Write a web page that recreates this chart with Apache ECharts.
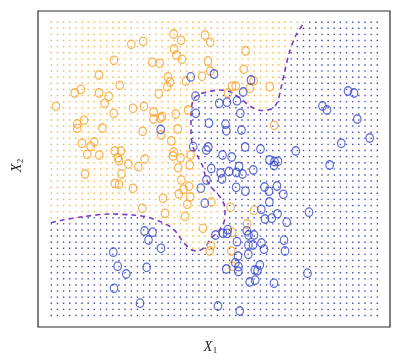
<!DOCTYPE html>
<html><head><meta charset="utf-8">
<script src="https://cdn.jsdelivr.net/npm/echarts@6/dist/echarts.min.js"></script>
<style>html,body{margin:0;padding:0;background:#fff}#c{width:418px;height:361px}</style>
</head><body><div id="c"></div>
<script>
const orangeX1 = [131.3,143.3,114,152,99,119.7,80.7,74.7,99,108.7,104.7,56,133,144,113.7,153.7,153.5,84,77.3,77.3,102.3,142.7,82,94.3,90.7,87.3,99.3,114.7,121,118,119,144.7,128.3,138.3,
173.7,181,205,210.3,174,176.3,182,245.7,159.7,208,243.7,210.3,202,186,168,170,167.3,232,235.7,253.7,249.7,269.7,228,158.7,188,175.7,160.5,162,177.7,161.3,171.3,274.3,173.7,173,180.5,190.7,189.7,178.3,
85,121.5,114.8,119,133,142.3,181.3,189,183.5,178.8,190.2,163,187.3,165,185.2,211.3,230.5,203,232.3,254.2,247.2,211,209.7,231.3,232.3];
const orangeX2 = [44.3,41.3,60.3,62.3,75,85.3,89.3,93,93,96.3,103.3,106.3,108.3,106.3,113.3,112,119,120.3,124,128.3,128,131.3,143.3,142,146.3,154.3,155,151,151,157.7,160.7,159,164,166.7,
34,40.3,35,42.3,49,55,59.3,51,63.3,61,69.3,71,76.3,81,77,82,86.7,86.3,86,80.7,88.3,86.7,93,93.8,110,114,118,116.5,129,135,141,125.3,152,156,158,155,165,167.8,
174,174,183.3,184.3,188.3,208.3,180,186.3,189.3,194,197,198.3,204.3,213.3,216.3,202,207.2,228.3,232.3,210.2,224,245.8,251,251,266.2];
const blueX1 = [190.7,214,251,243.2,195.5,219.2,227,237,195.8,240.3,209,225.5,226.3,241.5,160.7,193.2,208.3,206.3,245.2,260.5,222.5,231.7,269.5,274.5,278,274,211.3,220.7,229,239,236.5,242.5,253.3,222,206.5,
295.8,348,354,322.5,327,357.3,341.3,369.7,329.7,
200.8,236.2,245.5,264.5,269,277,283.3,204.8,269.3,261.3,277.5,265,271.7,286.7,309,246.7,248.5,254,215.5,223,227.3,227.7,237,248.5,253,261.5,264,161,238,248.3,235.3,238.5,238.3,226.3,259.8,254.8,257.5,249.7,255.2,274,218,239.7,284,285,307.5,
144.5,152.5,148.5,113.3,117.7,146.7,126.3,114,140];
const blueX2 = [76.9,74,80,92,96.2,103.3,102.2,100.8,113.3,113.3,123.2,124.2,130.8,130,129.5,146.7,147,150,147,149,155,157,160,161.5,161.3,165.5,168.5,173,171.5,166.5,172.5,174,170,179,180,
151,91,93,106,110,119,143.3,138,165,
188.2,187.3,191.2,187,191.3,186,194.3,203.2,202,209.3,213.8,219,218.2,222.2,212.2,230.8,235,235,235,233.3,233.3,229.7,241.7,245.2,245,243,249.2,248.3,256,254.3,262.8,266.7,271.5,269,265,270,270.8,282,280.2,283.2,306,311,240.2,251,273.2,
231,232.2,240,252.2,266.2,267.3,274,288.3,303.2];

// Decision boundary (dashed)
const boundaryX1 = [51,63,83,110,133,147,160,170,177,183,191,197,205,211,219.5,224.5,225,220,211,206,203,198,193,191,191,193,198,208,220,230,240,251,262,271,277,281,285,289.5,296,305];
const boundaryX2 = [222.7,220,216.7,214,215,217,221.5,226.5,233,241.7,249.5,251,247,238.5,230,220,208,197,187,178,167,157,147,133,118,100,95,91.7,90,91.7,98,106.7,110.5,109,103,88,70,52,35,21.7];

// Prediction grid
const gridX1 = {from: 51.3, to: 377.3, n: 54};
const gridX2 = {from: 22.2, to: 315.5, n: 49};

const xMin = 38, xMax = 390, yMin = 11, yMax = 327;

// orange region polygon: boundary closed through the top-left corner
const poly = boundaryX1.map((x, i) => [x, boundaryX2[i]]);
poly.push([306, 0], [0, 0], [0, boundaryX2[0]]);
function inside(px, py) {
  let c = false;
  for (let i = 0, j = poly.length - 1; i < poly.length; j = i++) {
    const [xi, yi] = poly[i], [xj, yj] = poly[j];
    if (((yi > py) !== (yj > py)) && (px < (xj - xi) * (py - yi) / (yj - yi) + xi)) c = !c;
  }
  return c;
}
const dotsO = [], dotsB = [];
for (let i = 0; i < gridX1.n; i++) {
  const gx = gridX1.from + (gridX1.to - gridX1.from) * i / (gridX1.n - 1);
  for (let j = 0; j < gridX2.n; j++) {
    const gy = gridX2.from + (gridX2.to - gridX2.from) * j / (gridX2.n - 1);
    (inside(gx, gy) ? dotsO : dotsB).push([gx, gy]);
  }
}
const pair = (a, b) => a.map((v, i) => [v, b[i]]);

const chart = echarts.init(document.getElementById('c'), null, {renderer: 'canvas'});
const ORANGE = '#f7a32b', BLUE = '#3a49c9';
chart.setOption({
  animation: false,
  backgroundColor: '#fff',
  grid: {left: 38, top: 11, width: 352, height: 316, show: true, borderColor: '#2a2a2a', borderWidth: 1.2, backgroundColor: 'transparent'},
  xAxis: {type: 'value', min: xMin, max: xMax, axisLine: {show: false}, axisTick: {show: false}, axisLabel: {show: false}, splitLine: {show: false}},
  yAxis: {type: 'value', min: yMin, max: yMax, inverse: true, axisLine: {show: false}, axisTick: {show: false}, axisLabel: {show: false}, splitLine: {show: false}},
  series: [
    {type: 'scatter', data: dotsO, symbol: 'rect', symbolSize: 1.4, itemStyle: {color: '#f5a010'}, silent: true},
    {type: 'scatter', data: dotsB, symbol: 'rect', symbolSize: 1.4, itemStyle: {color: '#0e1ca0'}, silent: true},
    {type: 'line', data: pair(boundaryX1, boundaryX2), showSymbol: false, smooth: 0.3, lineStyle: {color: '#7d3bc6', width: 1.6, type: [5, 4]}, z: 3},
    {type: 'scatter', data: pair(orangeX1, orangeX2), symbol: 'circle', symbolSize: [7.5, 8.5], itemStyle: {color: 'rgba(0,0,0,0)', borderColor: ORANGE, borderWidth: 1.25}, z: 4},
    {type: 'scatter', data: pair(blueX1, blueX2), symbol: 'circle', symbolSize: [7.5, 8.5], itemStyle: {color: 'rgba(0,0,0,0)', borderColor: BLUE, borderWidth: 1.25}, z: 5}
  ],
  graphic: [
    {type: 'text', x: 208, y: 347, style: {text: 'X', fontFamily: 'Liberation Serif', fontStyle: 'italic', fontSize: 14, fill: '#222', textAlign: 'center', textVerticalAlign: 'middle', align: 'center', verticalAlign: 'middle'}},
    {type: 'text', x: 215, y: 351, style: {text: '1', fontFamily: 'Liberation Serif', fontSize: 9, fill: '#222', textAlign: 'center', textVerticalAlign: 'middle', align: 'center', verticalAlign: 'middle'}},
    {type: 'group', x: 17, y: 168, rotation: Math.PI / 2, children: [
      {type: 'text', x: 0, y: 0, style: {text: 'X', fontFamily: 'Liberation Serif', fontStyle: 'italic', fontSize: 14, fill: '#222', textAlign: 'center', textVerticalAlign: 'middle', align: 'center', verticalAlign: 'middle'}},
      {type: 'text', x: 7, y: 4, style: {text: '2', fontFamily: 'Liberation Serif', fontSize: 9, fill: '#222', textAlign: 'center', textVerticalAlign: 'middle', align: 'center', verticalAlign: 'middle'}}
    ]}
  ]
});
</script>
</body></html>
